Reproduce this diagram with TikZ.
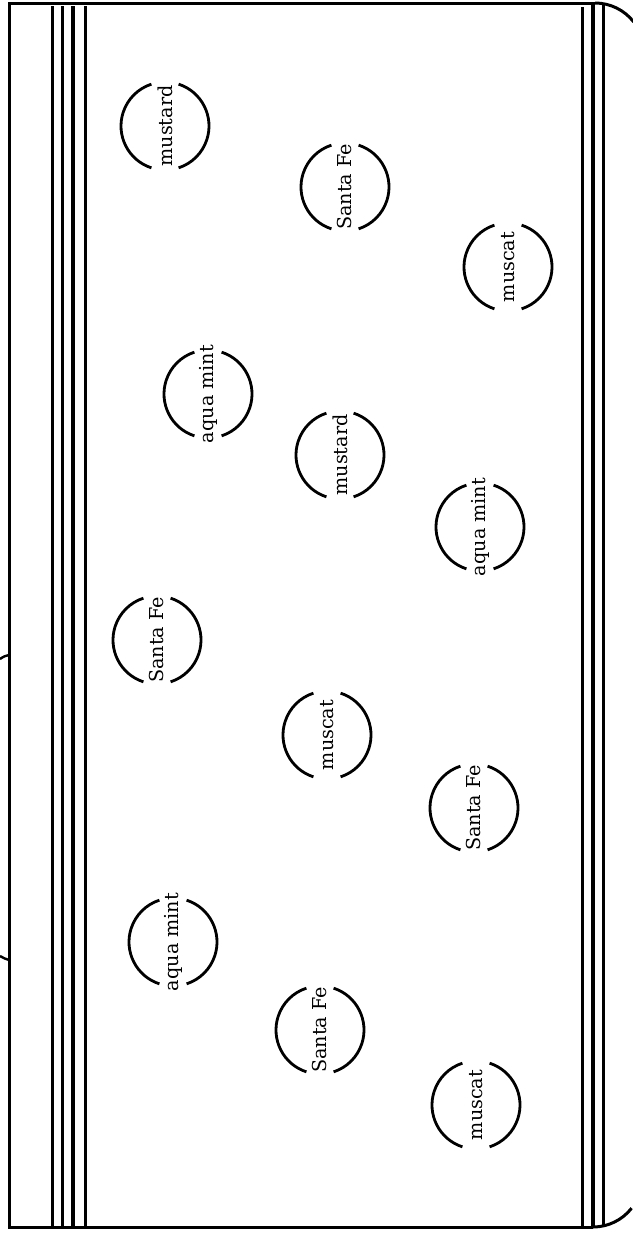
\documentclass[tikz,border=0pt]{standalone}
\usepackage{fontspec}
\setmainfont{DejaVu Serif}
\begin{document}
\begin{tikzpicture}[x=1pt,y=-1pt,
  frame/.style={line width=3pt,line join=miter},
  rail/.style={line width=3pt},
  thickrail/.style={line width=4.2pt},
  lbl/.style={rotate=90,inner sep=0pt,font=\fontsize{19.2}{22}\selectfont},
  ring/.style={line width=2.8pt}]
\useasboundingbox (0,0) rectangle (632,1234);
% outer frame
\coordinate (tr) at (595,3);
\coordinate (tl) at (9,3);
\coordinate (bl) at (9,1227);
\coordinate (br) at (593,1227);
\draw[frame] (tr) -- (tl) -- (bl) -- (br);
\draw[frame] (tr) arc[start angle=-90,end angle=-38,radius=49];
\draw[frame] (br) arc[start angle=90,end angle=38,radius=49];
% left stubs
\coordinate (s1) at (9,655);
\coordinate (s2) at (9,960);
\draw[line width=2.4pt] (s1) .. controls (6,655.4) and (3,656.8) .. (0,659);
\draw[line width=2.4pt] (s2) .. controls (6,959.2) and (3,957.8) .. (0,956);
% left rails
\draw[rail] (52,6) -- (52,1227);
\draw[rail] (62,6) -- (62,1227);
\draw[thickrail] (73,6) -- (73,1227);
\draw[rail] (85,6) -- (85,1227);
% right rails
\draw[rail] (582,7) -- (582,1227);
\draw[thickrail] (593,3) -- (593,1227);
\draw[rail] (603,4) -- (603,1226);
% labelled rings
\foreach \n/\x/\y/\t in {
  c1/165/126/mustard,
  c2/345/187/Santa Fe,
  c3/508/267/muscat,
  c4/208/394/aqua mint,
  c5/340/455/mustard,
  c6/480/527/aqua mint,
  c7/157/640/Santa Fe,
  c8/327/735/muscat,
  c9/474/808/Santa Fe,
  c10/173/942/aqua mint,
  c11/320/1030/Santa Fe,
  c12/476/1105/muscat}{
  \node[lbl] (\n) at (\x,\y) {\t};
  \draw[ring] ([shift={(108:44)}]\n.center) arc[start angle=108,end angle=252,radius=44];
  \draw[ring] ([shift={(-72:44)}]\n.center) arc[start angle=-72,end angle=72,radius=44];
}
\end{tikzpicture}
\end{document}
